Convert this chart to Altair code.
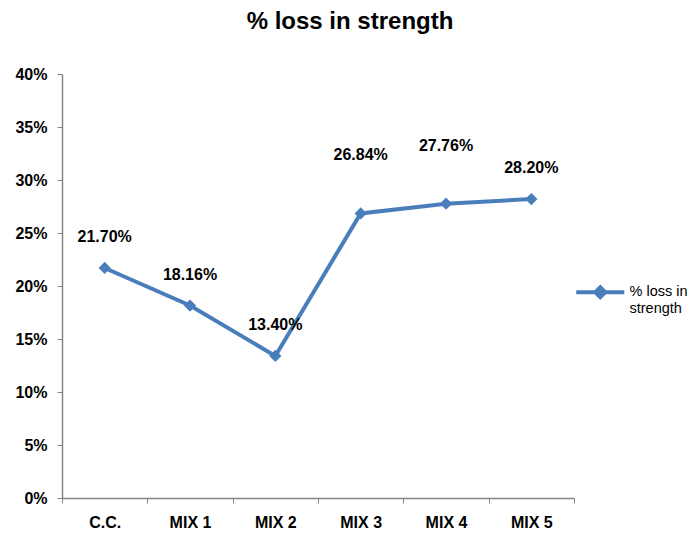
import altair as alt
import pandas as pd

categories = ["C.C.", "MIX 1", "MIX 2", "MIX 3", "MIX 4", "MIX 5"]
loss = [0.2170, 0.1816, 0.1340, 0.2684, 0.2776, 0.2820]
series = "% loss in strength"
raised = ["MIX 3", "MIX 4"]

df = pd.DataFrame({"cat": categories, "loss": loss, "series": series})

FONT = "Liberation Sans, Arial"
BLUE = "#4A7EBB"

x = alt.X("cat:N", sort=categories, title=None,
          scale=alt.Scale(type="band", paddingInner=0, paddingOuter=0),
          axis=alt.Axis(labelAngle=0, tickBand="extent", labelFont=FONT,
                        labelFontSize=16, labelFontWeight="bold", labelColor="#000",
                        labelPadding=11, domainColor="#868686", tickColor="#868686",
                        tickSize=5, domainWidth=1.5))
y = alt.Y("loss:Q", title=None,
          scale=alt.Scale(domain=[0, 0.4], nice=False),
          axis=alt.Axis(format=".0%", values=[i * 0.05 for i in range(9)], grid=False,
                        labelFont=FONT, labelFontSize=16, labelFontWeight="bold",
                        labelColor="#000", labelPadding=10, domainColor="#868686",
                        tickColor="#868686", tickSize=5, domainWidth=1.5))

legend_path = "M-4.8,1.4H4.8M0,0.4L1,1.4L0,2.4L-1,1.4Z"

line = alt.Chart(df).mark_line(
    strokeWidth=4, point=alt.OverlayMarkDef(shape="diamond", size=150, filled=True, color=BLUE)
).encode(
    x=x, y=y,
    color=alt.Color("series:N", scale=alt.Scale(range=[BLUE]),
                    legend=alt.Legend(title=None, orient="none", legendX=531, legendY=204,
                                      symbolType=legend_path, symbolSize=100,
                                      symbolStrokeWidth=4, symbolFillColor=BLUE,
                                      symbolStrokeColor=BLUE,
                                      labelExpr="['% loss in', 'strength']",
                                      labelFont=FONT, labelFontSize=14.5, labelColor="#000",
                                      labelBaseline="top", labelOffset=22, labelLimit=200)),
)

base_text = alt.Chart(df).encode(x=x, y=y, text=alt.Text("loss:Q", format=".2%"))
labels_low = base_text.transform_filter(
    alt.FieldOneOfPredicate(field="cat", oneOf=[c for c in categories if c not in raised])
).mark_text(dy=-31, font=FONT, fontSize=16, fontWeight="bold", color="#000")
labels_high = base_text.transform_filter(
    alt.FieldOneOfPredicate(field="cat", oneOf=raised)
).mark_text(dy=-58, font=FONT, fontSize=16, fontWeight="bold", color="#000")

chart = alt.layer(line, labels_low, labels_high).properties(
    width=512, height=424,
    autosize=alt.AutoSizeParams(type="none"),
    padding={"left": 54, "top": 66, "right": 116, "bottom": 36},
    title=alt.Title(series, font=FONT, fontSize=24, fontWeight="bold", color="#000",
                    anchor="middle", dx=32, offset=32),
).configure_view(stroke=None)

chart.save("out.html", embed_options={"renderer": "svg", "actions": False})
